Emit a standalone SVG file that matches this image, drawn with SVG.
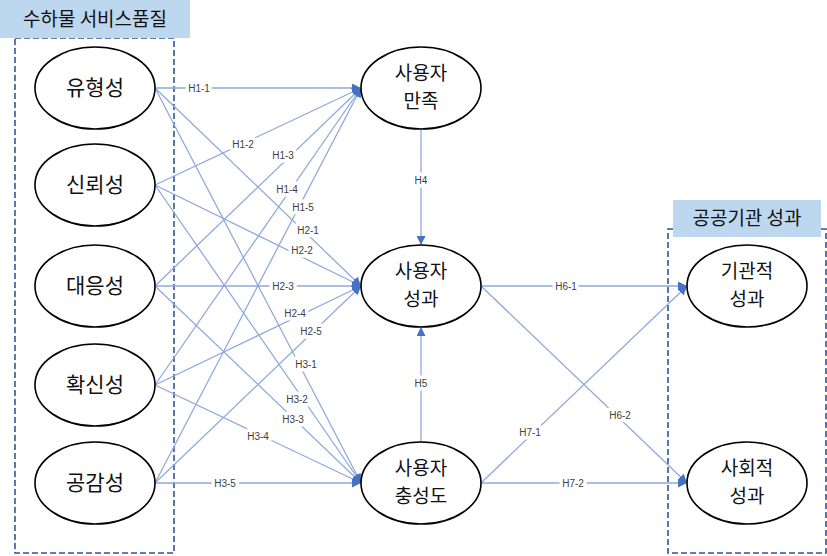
<svg xmlns="http://www.w3.org/2000/svg" width="827" height="556" viewBox="0 0 827 556">
<style>
.bg{fill:#ffffff}
.node{fill:#ffffff;stroke:#000000;stroke-width:1.6}
.nt{font-family:"Noto Sans CJK KR","Noto Sans",sans-serif;font-size:21px;fill:#111111;text-anchor:middle}
.nt2{font-family:"Noto Sans CJK KR","Noto Sans",sans-serif;font-size:19px;fill:#111111;text-anchor:middle}
.conn line{stroke:#8faadc;stroke-width:1.3;fill:none}
.lbl{font-family:"Liberation Sans",Arial,sans-serif;font-size:10px;fill:#404040;text-anchor:middle;stroke:#ffffff;stroke-width:7;paint-order:stroke;stroke-linejoin:round}
.grp{fill:none;stroke:#2f5597;stroke-width:1.6;stroke-dasharray:6 3}
.title{fill:#bdd7ee}
.tt{font-family:"Noto Sans CJK KR","Noto Sans",sans-serif;font-size:19px;fill:#111111;text-anchor:middle}
</style>
<defs>
<marker id="ah" viewBox="0 0 10 10" refX="10" refY="5" markerWidth="9" markerHeight="9" markerUnits="userSpaceOnUse" orient="auto">
<path d="M0,0 L10,5 L0,10 z" fill="#4472c4"/>
</marker>
</defs>
<rect class="bg" width="827" height="556"/>
<g id="group-left">
<rect class="grp" x="15" y="38" width="159" height="515"/>
<rect class="title" x="0" y="0" width="190" height="38"/>
<text class="tt" x="95" y="26">수하물 서비스품질</text>
</g>
<g id="group-right">
<rect class="grp" x="668" y="229" width="158" height="324"/>
<rect class="title" x="673" y="200" width="148" height="37"/>
<text class="tt" x="747" y="225">공공기관 성과</text>
</g>
<g id="connectors" class="conn">
<line x1="155" y1="88" x2="361" y2="88" marker-end="url(#ah)"/>
<line x1="155" y1="185" x2="361" y2="88" marker-end="url(#ah)"/>
<line x1="155" y1="286" x2="361" y2="88" marker-end="url(#ah)"/>
<line x1="155" y1="385" x2="361" y2="88" marker-end="url(#ah)"/>
<line x1="155" y1="483" x2="361" y2="88" marker-end="url(#ah)"/>
<line x1="155" y1="88" x2="361" y2="286" marker-end="url(#ah)"/>
<line x1="155" y1="185" x2="361" y2="286" marker-end="url(#ah)"/>
<line x1="155" y1="286" x2="361" y2="286" marker-end="url(#ah)"/>
<line x1="155" y1="385" x2="361" y2="286" marker-end="url(#ah)"/>
<line x1="155" y1="483" x2="361" y2="286" marker-end="url(#ah)"/>
<line x1="155" y1="88" x2="361" y2="483" marker-end="url(#ah)"/>
<line x1="155" y1="185" x2="361" y2="483" marker-end="url(#ah)"/>
<line x1="155" y1="286" x2="361" y2="483" marker-end="url(#ah)"/>
<line x1="155" y1="385" x2="361" y2="483" marker-end="url(#ah)"/>
<line x1="155" y1="483" x2="361" y2="483" marker-end="url(#ah)"/>
<line x1="421" y1="129" x2="421" y2="245" marker-end="url(#ah)"/>
<line x1="421" y1="442" x2="421" y2="327" marker-end="url(#ah)"/>
<line x1="481" y1="286" x2="687" y2="286" marker-end="url(#ah)"/>
<line x1="481" y1="286" x2="687" y2="483" marker-end="url(#ah)"/>
<line x1="481" y1="483" x2="687" y2="286" marker-end="url(#ah)"/>
<line x1="481" y1="483" x2="687" y2="483" marker-end="url(#ah)"/>
</g>
<g id="labels">
<text class="lbl" x="199" y="92">H1-1</text>
<text class="lbl" x="243" y="148">H1-2</text>
<text class="lbl" x="283" y="159">H1-3</text>
<text class="lbl" x="287" y="193">H1-4</text>
<text class="lbl" x="303" y="211">H1-5</text>
<text class="lbl" x="308" y="234">H2-1</text>
<text class="lbl" x="302" y="254">H2-2</text>
<text class="lbl" x="283" y="290">H2-3</text>
<text class="lbl" x="295" y="317">H2-4</text>
<text class="lbl" x="311" y="335">H2-5</text>
<text class="lbl" x="306" y="368">H3-1</text>
<text class="lbl" x="297" y="403">H3-2</text>
<text class="lbl" x="293" y="423">H3-3</text>
<text class="lbl" x="258" y="440">H3-4</text>
<text class="lbl" x="225" y="487">H3-5</text>
<text class="lbl" x="421" y="184">H4</text>
<text class="lbl" x="421" y="387">H5</text>
<text class="lbl" x="566" y="290">H6-1</text>
<text class="lbl" x="620" y="419">H6-2</text>
<text class="lbl" x="530" y="436">H7-1</text>
<text class="lbl" x="573" y="487">H7-2</text>
</g>
<g id="n-yuhyeong"><ellipse class="node" cx="95" cy="88" rx="60" ry="41"/><text class="nt" x="95" y="95">유형성</text></g>
<g id="n-sinroe"><ellipse class="node" cx="95" cy="185" rx="60" ry="41"/><text class="nt" x="95" y="192">신뢰성</text></g>
<g id="n-daeeung"><ellipse class="node" cx="95" cy="286" rx="60" ry="41"/><text class="nt" x="95" y="293">대응성</text></g>
<g id="n-hwaksin"><ellipse class="node" cx="95" cy="385" rx="60" ry="41"/><text class="nt" x="95" y="392">확신성</text></g>
<g id="n-gonggam"><ellipse class="node" cx="95" cy="483" rx="60" ry="41"/><text class="nt" x="95" y="490">공감성</text></g>
<g id="n-satisfaction"><ellipse class="node" cx="421" cy="88" rx="60" ry="41"/><text class="nt2" x="421" y="80">사용자</text><text class="nt2" x="421" y="108">만족</text></g>
<g id="n-performance"><ellipse class="node" cx="421" cy="286" rx="60" ry="41"/><text class="nt2" x="421" y="278">사용자</text><text class="nt2" x="421" y="306">성과</text></g>
<g id="n-loyalty"><ellipse class="node" cx="421" cy="483" rx="60" ry="41"/><text class="nt2" x="421" y="475">사용자</text><text class="nt2" x="421" y="503">충성도</text></g>
<g id="n-org"><ellipse class="node" cx="747" cy="286" rx="60" ry="41"/><text class="nt2" x="747" y="278">기관적</text><text class="nt2" x="747" y="306">성과</text></g>
<g id="n-social"><ellipse class="node" cx="747" cy="483" rx="60" ry="41"/><text class="nt2" x="747" y="475">사회적</text><text class="nt2" x="747" y="503">성과</text></g>
</svg>
